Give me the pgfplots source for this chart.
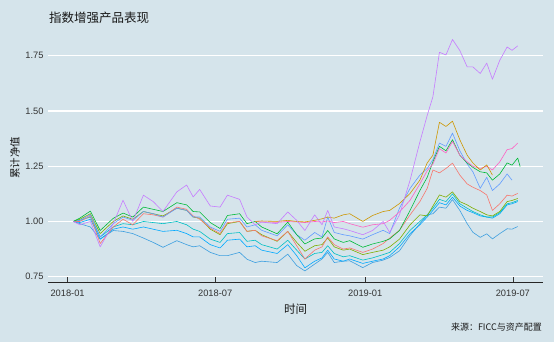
\documentclass[border=0pt]{standalone}
\usepackage{pgfplots}
\pgfplotsset{compat=1.18}
\usepackage{pgfplotstable}
\usepackage{fontspec}
\setmainfont{Liberation Sans}
\newfontfamily\cjk{Noto Sans CJK SC}

\definecolor{bg}{HTML}{D5E4EB}
\definecolor{cpur}{HTML}{C77CFF}
\definecolor{cgold}{HTML}{CD9600}
\definecolor{cpink}{HTML}{FF61C3}
\definecolor{cgrn}{HTML}{00BA38}
\definecolor{cbpur}{HTML}{619CFF}
\definecolor{csalm}{HTML}{F8766D}
\definecolor{cygrn}{HTML}{7CAE00}
\definecolor{ccyan}{HTML}{00BFC4}
\definecolor{clblue}{HTML}{00A9FF}
\definecolor{cblue}{HTML}{3D9FE0}

% d = days since 2018-01-01
\pgfplotstableread{
d pur gold pink grn bpur salm ygrn cyan lblue blue
7 1.000 nan nan 1.000 1.000 1.000 1.000 1.000 1.000 1.000
15 0.985 nan nan 1.015 1.005 1.000 1.010 1.005 0.995 0.990
28 1.000 nan nan 1.047 1.030 1.025 1.035 1.020 1.010 0.975
40 0.885 nan nan 0.959 0.930 0.900 0.945 0.930 0.920 0.920
56 0.990 nan nan 1.014 0.990 0.975 1.000 0.975 0.965 0.959
68 1.096 nan nan 1.038 1.020 1.010 1.025 0.990 0.975 0.955
80 1.000 nan nan 1.020 1.005 0.985 1.010 0.985 0.965 0.945
93 1.119 nan nan 1.065 1.045 1.035 1.045 1.000 0.975 0.925
105 1.090 nan nan 1.055 1.035 1.030 1.035 0.995 0.965 0.905
117 1.045 nan nan 1.045 1.020 1.020 1.025 0.990 0.955 0.883
134 1.134 nan nan 1.085 1.060 1.065 1.060 1.000 0.960 0.913
146 1.165 nan nan 1.075 1.050 1.055 1.050 0.985 0.945 0.895
154 1.111 nan nan 1.045 1.020 1.025 1.020 0.965 0.930 0.885
162 1.145 nan nan 1.043 1.020 1.010 1.015 0.955 0.930 0.890
175 1.070 nan nan 0.995 0.975 0.970 0.965 0.920 0.895 0.860
187 1.065 nan nan 0.968 0.955 0.945 0.940 0.905 0.880 0.845
196 1.119 nan nan 1.027 1.010 0.995 0.990 0.945 0.915 0.845
211 1.100 nan nan 1.035 1.015 1.000 1.000 0.950 0.920 0.860
220 1.020 nan nan 0.990 0.975 0.955 0.955 0.910 0.885 0.829
230 0.985 1.000 1.000 1.000 0.985 0.960 0.960 0.915 0.890 0.814
238 0.997 1.002 0.998 0.975 0.960 0.935 0.940 0.895 0.870 0.820
257 0.990 1.000 0.996 0.944 0.935 0.913 0.910 0.875 0.855 0.814
270 1.043 1.005 1.000 0.997 0.985 0.955 0.955 0.915 0.895 0.852
281 1.005 1.000 0.998 0.940 0.940 0.890 0.905 0.870 0.845 0.800
291 0.959 0.998 0.995 0.898 0.915 0.830 0.865 0.830 0.790 0.776
303 1.030 1.005 1.000 0.921 0.950 0.870 0.890 0.855 0.820 0.807
312 0.985 1.012 0.998 0.925 0.930 0.885 0.895 0.860 0.835 0.830
319 1.050 1.020 1.002 0.959 1.020 0.930 0.925 0.890 0.870 0.860
327 0.975 1.015 0.995 0.921 0.950 0.895 0.885 0.855 0.830 0.814
338 0.967 1.030 1.000 0.905 0.940 0.875 0.870 0.840 0.820 0.820
346 0.959 1.035 0.990 0.913 0.935 0.880 0.875 0.845 0.830 0.822
362 0.940 1.000 0.974 0.883 0.920 0.860 0.850 0.825 0.810 0.791
374 0.959 1.027 0.985 0.898 0.940 0.875 0.860 0.835 0.820 0.814
387 1.000 1.045 0.990 0.910 0.960 0.900 0.870 0.850 0.830 0.825
395 0.950 1.050 1.005 0.921 0.945 0.925 0.885 0.860 0.845 0.837
407 1.030 1.081 1.043 0.959 1.060 0.960 0.920 0.900 0.885 0.867
420 1.187 1.127 1.096 1.050 1.150 1.030 0.985 0.960 0.945 0.936
432 1.360 1.187 1.170 1.140 1.210 1.090 1.030 1.000 0.985 0.990
441 1.480 1.265 1.230 1.200 1.240 1.150 1.025 1.030 1.020 1.030
448 1.565 1.300 1.260 1.270 1.280 1.233 1.070 1.060 1.050 1.035
456 1.766 1.449 1.330 1.340 1.355 1.220 1.120 1.100 1.085 1.065
464 1.754 1.430 1.310 1.320 1.340 1.240 1.110 1.090 1.075 1.060
472 1.824 1.454 1.362 1.370 1.400 1.264 1.134 1.125 1.110 1.099
481 1.774 1.370 1.300 1.300 1.320 1.210 1.090 1.080 1.070 1.050
490 1.700 1.300 1.270 1.265 1.260 1.170 1.075 1.060 1.050 0.990
497 1.700 1.265 1.250 1.245 1.225 1.155 1.060 1.045 1.040 0.951
506 1.670 1.233 1.240 1.225 1.150 1.140 1.045 1.030 1.025 0.928
514 1.717 1.256 1.250 1.220 1.200 1.120 1.030 1.020 1.020 0.944
521 1.644 1.210 1.233 1.187 1.140 1.050 1.025 1.020 1.015 0.921
530 1.730 nan 1.270 1.215 1.170 1.080 1.045 1.040 1.035 0.945
539 1.790 nan 1.325 1.265 1.215 1.119 1.090 1.080 1.075 0.967
545 1.775 nan 1.330 1.255 1.187 1.115 1.095 1.085 1.080 0.965
552 1.795 nan 1.355 1.287 nan 1.127 1.104 1.095 1.090 0.977
555 nan nan nan 1.248 nan nan nan nan nan nan
}\navdata

\begin{document}
\begin{tikzpicture}
\fill[bg] (0,0) rectangle (554pt,342pt);
\begin{axis}[
  at={(48pt,59.5pt)}, anchor=south west,
  scale only axis, width=495pt, height=254.5pt,
  xmin=-24, xmax=583, ymin=0.7236, ymax=1.876,
  axis line style={draw=none},
  xtick={0,181,365,546},
  xticklabels={2018-01,2018-07,2019-01,2019-07},
  ytick={0.75,1,1.25,1.5,1.75},
  yticklabels={0.75,1.00,1.25,1.50,1.75},
  xtick pos=lower, tick align=inside,
  major tick length=5pt,
  x tick style={black!80, line width=0.6pt},
  y tick style={draw=none},
  ymajorgrids, grid style={white, line width=1.2pt},
  tick label style={font=\fontsize{9.3}{10}\selectfont, text=black!80},
  xticklabel style={yshift=-4pt},
  yticklabel style={xshift=-1pt},
  every axis plot/.append style={no markers, line width=0.6pt, line join=round},
  clip=false,
]
\draw[black!85, line width=0.8pt] (rel axis cs:0,0) -- (rel axis cs:1,0);
\addplot[cblue]  table[x=d, y=blue]  {\navdata};
\addplot[clblue] table[x=d, y=lblue] {\navdata};
\addplot[ccyan]  table[x=d, y=cyan]  {\navdata};
\addplot[cygrn]  table[x=d, y=ygrn]  {\navdata};
\addplot[csalm]  table[x=d, y=salm]  {\navdata};
\addplot[cbpur]  table[x=d, y=bpur]  {\navdata};
\addplot[cgrn]   table[x=d, y=grn]   {\navdata};
\addplot[cpink]  table[x=d, y=pink]  {\navdata};
\addplot[cgold]  table[x=d, y=gold]  {\navdata};
\addplot[cpur]   table[x=d, y=pur]   {\navdata};
\end{axis}
\node[anchor=west, inner sep=0pt, text=black!90] at (49pt,324.5pt) {\cjk\fontsize{12.5}{14}\selectfont 指数增强产品表现};
\node[rotate=90, inner sep=0pt, text=black!90] at (15pt,184pt) {\cjk\fontsize{10.5}{12}\selectfont 累计净值};
\node[inner sep=0pt, text=black!90] at (295.5pt,33pt) {\cjk\fontsize{11.5}{13}\selectfont 时间};
\node[anchor=east, inner sep=0pt, text=black!90] at (542pt,15pt) {\cjk\fontsize{9}{11}\selectfont 来源：FICC与资产配置};
\end{tikzpicture}
\end{document}
